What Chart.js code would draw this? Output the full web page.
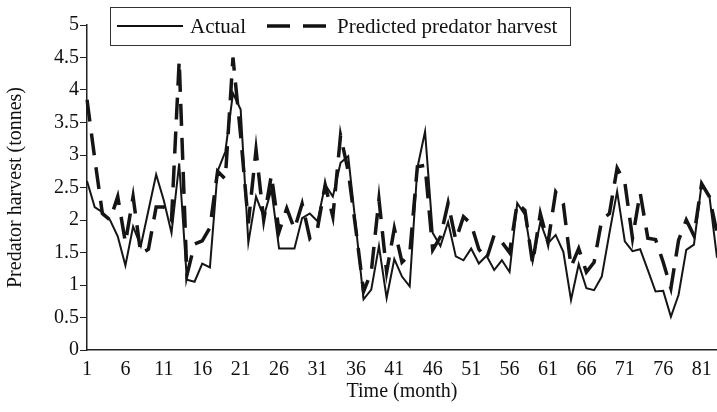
<!DOCTYPE html>
<html>
<head>
<meta charset="utf-8">
<script src="https://cdn.jsdelivr.net/npm/chart.js@4"></script>
<style>
  html, body { margin: 0; padding: 0; background: #fff; }
  canvas { display: block; }
</style>
</head>
<body>
<canvas id="harvestChart" width="717" height="412"></canvas>
<script>
// months 1..83
var months = [];
for (var m = 1; m <= 83; m++) months.push(String(m));

var actual = [
  2.6, 2.2, 2.12, 2.0, 1.75, 1.3, 1.9, 1.6, 2.15, 2.7,
  2.3, 1.8, 2.87, 1.08, 1.05, 1.33, 1.27, 2.75, 3.05, 3.95,
  3.7, 1.65, 2.36, 2.05, 2.47, 1.56, 1.56, 1.56, 2.03, 2.1,
  1.98, 2.54, 2.36, 2.88, 2.98, 1.9, 0.78, 0.93, 1.6, 0.8,
  1.4, 1.13, 0.98, 2.8, 3.36, 1.8, 1.6, 1.97, 1.44, 1.38,
  1.56, 1.33, 1.45, 1.23, 1.38, 1.2, 2.26, 2.08, 1.36, 1.97,
  1.64, 1.77, 1.51, 0.77, 1.32, 0.95, 0.92, 1.13, 1.8, 2.44,
  1.67, 1.52, 1.55, 1.23, 0.9, 0.91, 0.51, 0.85, 1.54, 1.62,
  2.56, 2.38, 1.42
];

var predicted = [
  3.85, 2.95, 2.1, 2.0, 2.36, 1.65, 2.36, 1.48, 1.55, 2.2,
  2.2, 2.0, 4.45, 1.15, 1.63, 1.68, 1.88, 2.75, 2.63, 4.5,
  3.3, 1.95, 3.08, 2.0, 2.69, 1.82, 2.18, 1.86, 2.25, 1.72,
  1.87, 2.54, 2.05, 3.3, 2.75, 1.85, 0.9, 1.2, 2.32, 1.2,
  1.87, 1.35, 1.47, 2.82, 2.84, 1.54, 1.74, 2.26, 1.69, 2.05,
  1.94, 1.55, 1.4, 1.77, 1.66, 1.5, 2.26, 2.15, 1.33, 2.1,
  1.65, 2.43, 2.25, 1.28, 1.56, 1.2, 1.35, 2.0, 2.1, 2.8,
  2.58, 1.72, 2.42, 1.72, 1.7, 1.35, 0.95, 1.69, 2.0, 1.76,
  2.56, 2.36, 1.8
];

var seriesLabels = ['Actual', 'Predicted predator harvest'];

var FONT = '"Liberation Serif", "Times New Roman", serif';

// boxed legend drawn inside the top of the plot
var boxLegend = {
  id: 'boxLegend',
  afterDraw: function(chart) {
    var ctx = chart.ctx;
    ctx.save();
    ctx.fillStyle = '#fff';
    ctx.fillRect(110.5, 7.5, 460, 38);
    ctx.strokeStyle = '#333';
    ctx.lineWidth = 1;
    ctx.strokeRect(110.5, 7.5, 460, 38);

    var y = 26;
    ctx.strokeStyle = '#111';
    ctx.lineWidth = 2;
    ctx.beginPath();
    ctx.moveTo(117, y);
    ctx.lineTo(183, y);
    ctx.stroke();

    ctx.lineWidth = 3.5;
    ctx.setLineDash([23, 13]);
    ctx.beginPath();
    ctx.moveTo(267, y);
    ctx.lineTo(327, y);
    ctx.stroke();
    ctx.setLineDash([]);

    ctx.fillStyle = '#111';
    ctx.font = '21px ' + FONT;
    ctx.textBaseline = 'middle';
    ctx.fillText(seriesLabels[0], 190, y + 1);
    ctx.fillText(seriesLabels[1], 337, y + 1);
    ctx.restore();
  }
};

var ctx = document.getElementById('harvestChart');

var chart = new Chart(ctx, {
  type: 'line',
  data: {
    labels: months,
    datasets: [
      {
        label: seriesLabels[0],
        data: actual,
        borderColor: '#151515',
        borderWidth: 2,
        pointRadius: 0,
        tension: 0,
        fill: false
      },
      {
        label: seriesLabels[1],
        data: predicted,
        borderColor: '#151515',
        borderWidth: 3.5,
        borderDash: [22, 12],
        pointRadius: 0,
        tension: 0,
        fill: false
      }
    ]
  },
  options: {
    responsive: false,
    animation: false,
    layout: { padding: { top: 25, right: 0, left: 0, bottom: 0 } },
    plugins: {
      legend: { display: false },
      tooltip: { enabled: false }
    },
    scales: {
      x: {
        grid: { display: false },
        border: { display: true, color: '#222', width: 1.5 },
        ticks: {
          autoSkip: false,
          maxRotation: 0,
          padding: 0,
          color: '#111',
          font: { family: FONT, size: 20 },
          callback: function(val, i) {
            return i % 5 === 0 ? this.getLabelForValue(val) : '';
          }
        },
        title: {
          display: true,
          text: 'Time (month)',
          color: '#111',
          font: { family: FONT, size: 20 },
          padding: { top: 2, bottom: 8 }
        },
        afterFit: function(scale) { scale.height = 62; }
      },
      y: {
        min: 0,
        max: 5,
        grid: {
          display: true,
          drawOnChartArea: false,
          drawTicks: true,
          tickLength: 7,
          color: '#222'
        },
        border: { display: true, color: '#222', width: 1.5 },
        ticks: {
          stepSize: 0.5,
          padding: 1,
          color: '#111',
          font: { family: FONT, size: 20 },
          callback: function(val) { return String(Math.round(val * 10) / 10); }
        },
        title: {
          display: true,
          text: 'Predator harvest (tonnes)',
          color: '#111',
          font: { family: FONT, size: 20 },
          padding: { top: 4, bottom: 4 }
        },
        afterFit: function(scale) { scale.width = 87; }
      }
    }
  },
  plugins: [boxLegend]
});
</script>
</body>
</html>
